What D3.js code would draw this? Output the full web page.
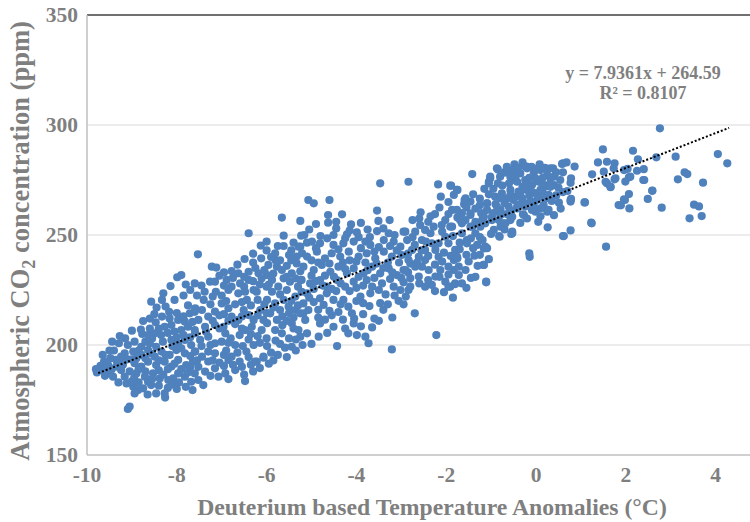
<!DOCTYPE html>
<html>
<head>
<meta charset="utf-8">
<script src="https://cdn.jsdelivr.net/npm/d3@7"></script>
<style>
  body { margin: 0; background: #fff; }
  svg text { font-family: "Liberation Serif", "Times New Roman", serif; font-weight: bold; fill: #7f7f7f; }
</style>
</head>
<body>
<svg id="chart" width="750" height="522"></svg>
<script>
// tick values
const xTicks = [-10, -8, -6, -4, -2, 0, 2, 4];
const yTicks = [150, 200, 250, 300, 350];

// trendline shown on the chart
const slope = 7.9361, intercept = 264.59;
const trendRange = [-9.75, 4.3];
const eqLabel = "y = 7.9361x + 264.59";
const r2Label = "R² = 0.8107";

// [temperature anomaly °C, CO2 ppm]
const samples = [
  [-7.90,231.8],[-7.99,230.8],[-8.14,226.8],[-8.57,219.7],[-8.33,220.5],[-8.75,210.9],[-8.47,210.3],[-8.33,212.9],[-8.17,215.1],[-8.16,212.1],
  [-7.97,211.4],[-7.82,210.6],[-7.71,214.4],[-7.60,215.1],[-8.77,205.0],[-8.94,201.5],[-9.09,200.0],[-9.27,204.1],[-9.44,201.5],[-9.29,200.8],
  [-8.64,204.5],[-8.49,205.3],[-8.27,208.3],[-8.12,209.1],[-8.05,206.1],[-7.90,206.8],[-7.75,208.3],[-7.60,206.8],[-8.79,199.2],[-8.60,200.8],
  [-8.46,199.2],[-8.31,201.5],[-8.12,202.3],[-7.97,200.8],[-7.82,202.3],[-7.68,200.0],[-8.97,197.0],[-8.79,195.5],[-8.64,197.7],[-8.49,194.7],
  [-8.34,197.0],[-8.16,195.5],[-8.01,197.7],[-7.82,196.2],[-7.60,197.0],[-9.35,193.2],[-9.24,194.7],[-9.16,196.2],[-9.53,190.9],[-9.68,188.6],
  [-9.53,187.1],[-9.42,185.6],[-9.24,188.6],[-9.35,190.2],[-9.16,185.6],[-8.94,191.7],[-8.79,190.2],[-8.64,192.4],[-8.46,190.9],[-8.27,192.4],
  [-8.12,190.2],[-7.97,193.2],[-7.79,190.9],[-7.64,192.4],[-8.90,187.1],[-8.71,185.6],[-8.53,187.1],[-8.38,184.8],[-8.19,184.1],[-8.08,184.8],
  [-7.97,187.1],[-7.82,185.6],[-7.68,183.3],[-7.60,187.1],[-8.97,181.0],[-8.86,179.5],[-8.75,180.3],[-8.57,181.8],[-8.94,178.0],[-8.46,178.0],
  [-8.27,178.0],[-8.26,176.1],[-9.05,172.0],[-9.09,170.9],[-8.64,183.3],[-9.78,187.5],[-9.60,186.0],[-9.62,192.5],[-9.70,190.5],[-9.48,194.0],
  [-9.00,193.5],[-9.05,188.0],[-9.12,182.5],[-8.85,183.0],[-9.30,183.0],
  [-9.40,197.5],[-9.20,191.0],[-9.10,193.5],[-8.95,185.0],[-8.85,189.0],[-8.70,188.0],[-8.55,184.5],[-8.40,188.5],[-8.30,186.5],[-8.20,189.0],
  [-8.05,191.5],[-7.90,189.0],[-7.75,187.5],[-7.70,195.0],[-7.90,198.5],[-8.10,199.5],[-8.25,195.5],[-8.40,193.0],[-8.55,196.0],[-8.70,194.0],
  [-8.85,197.5],[-8.90,194.0],[-8.70,201.5],[-8.55,203.0],[-8.35,204.5],[-8.20,205.5],[-8.00,203.5],[-7.85,204.5],[-7.70,203.5],[-7.65,210.5],
  [-7.85,213.0],[-8.00,214.5],[-8.40,207.5],[-8.60,207.5],[-8.50,214.0],[-8.25,217.5],[-7.75,218.0],[-8.10,182.0],[-8.40,181.5],[-7.95,183.0],
  [-7.80,181.0],[-8.65,177.5],[-9.00,183.5],[-9.25,191.5],[-9.45,189.0],[-9.60,189.5],[-9.80,189.0],
  [-8.45,217.0],[-8.30,223.5],[-8.05,220.5],[-7.85,222.5],[-7.70,225.0],[-7.55,222.5],[-7.60,228.0],[-7.80,227.5],[-8.60,212.0],[-8.80,207.0],
  [-9.00,206.5],[-9.15,203.0],[-9.50,197.5],[-9.65,195.5],[-7.55,193.0],[-7.70,190.0],[-7.65,179.5],[-8.00,180.0],[-8.20,180.5],
  [-6.40,250.8],[-5.62,249.7],[-5.23,249.7],[-6.13,245.2],[-5.62,245.0],[-5.29,244.7],[-7.53,241.2],[-6.49,239.1],[-6.12,239.4],[-5.81,241.7],
  [-5.50,240.9],[-5.33,240.2],[-5.21,241.7],[-7.22,235.6],[-7.12,235.2],[-6.78,233.6],[-6.63,232.6],[-6.40,233.3],[-6.18,232.6],[-5.96,236.4],
  [-5.77,235.6],[-5.66,234.1],[-5.44,232.6],[-5.33,237.1],[-7.26,228.8],[-7.15,228.8],[-6.89,229.6],[-6.78,226.5],[-6.59,228.0],[-6.40,229.6],
  [-6.29,225.0],[-6.11,230.3],[-5.99,231.8],[-5.88,229.6],[-5.74,226.5],[-5.62,230.3],[-5.48,228.8],[-5.36,230.3],[-5.22,229.6],[-7.38,224.2],
  [-7.13,224.2],[-6.85,225.0],[-6.63,223.5],[-6.48,224.2],[-6.44,220.5],[-6.22,224.2],[-5.99,220.5],[-5.88,224.2],[-5.81,218.9],[-5.62,220.5],
  [-5.55,225.0],[-5.36,222.0],[-5.22,224.2],[-5.18,218.9],[-7.59,216.7],[-7.44,215.9],[-7.30,212.9],[-7.15,215.2],[-7.00,218.9],[-6.85,216.7],
  [-6.78,212.9],[-6.63,211.4],[-6.51,215.9],[-6.40,213.6],[-6.29,211.4],[-6.14,215.9],[-6.07,211.4],[-5.92,214.4],[-5.77,211.4],[-5.70,215.9],
  [-5.51,217.4],[-5.36,215.9],[-5.25,214.4],[-5.14,211.4],[-7.52,211.4],[-7.37,208.3],[-7.15,209.1],[-6.92,205.3],[-6.96,208.3],[-6.48,206.8],
  [-6.33,208.3],[-6.11,206.8],[-5.99,209.9],[-5.81,206.8],[-5.66,205.3],[-5.44,209.9],[-5.29,206.8],[-7.59,205.3],[-7.48,202.3],[-7.30,203.8],
  [-7.15,200.8],[-6.70,200.0],[-6.53,199.5],[-6.29,200.0],[-5.99,199.5],[-5.59,198.8],[-5.44,199.2],[-7.59,197.0],[-7.44,194.7],[-7.30,197.0],
  [-7.15,196.2],[-6.85,193.2],[-6.78,194.7],[-6.55,190.1],[-6.26,192.4],[-6.07,194.7],[-7.52,190.1],[-7.37,187.9],[-7.15,189.4],[-6.92,187.1],
  [-6.70,188.6],[-7.07,185.6],[-7.52,184.1],[-7.41,181.8],[-6.48,183.6],[-6.22,192.4],[-6.07,194.2],[-6.80,203.0],[-6.60,204.5],[-7.00,201.5],
  [-6.40,202.5],[-6.20,204.0],[-5.80,202.0],[-5.50,203.0],[-5.90,196.5],[-6.90,197.5],[-7.05,192.0],[-6.65,196.5],
  [-7.45,199.5],[-7.25,200.0],[-7.35,206.0],[-7.20,211.0],[-7.05,207.5],[-7.05,213.5],[-7.25,218.5],[-7.40,220.5],[-7.20,222.0],[-7.00,222.5],
  [-6.90,220.0],[-6.70,218.5],[-6.55,219.5],[-6.95,214.0],[-6.70,209.5],[-6.85,211.0],[-6.55,213.0],[-6.35,218.0],[-6.20,220.5],[-6.05,218.5],
  [-6.20,213.5],[-6.00,214.5],[-5.85,217.0],[-5.65,213.0],[-5.50,214.5],[-5.40,212.5],[-5.45,220.0],[-5.70,223.0],[-6.00,226.5],[-6.15,227.5],
  [-6.50,226.5],[-6.95,227.0],[-7.05,231.5],[-6.75,230.5],[-6.50,231.0],[-6.25,235.0],[-6.05,234.0],[-5.85,232.5],[-5.55,236.0],[-5.45,238.5],
  [-5.70,238.5],[-6.30,229.0],[-5.95,227.5],[-5.30,226.5],[-5.55,231.0],[-5.25,233.5],[-6.85,201.0],[-6.45,197.0],[-6.15,201.0],[-6.35,205.0],
  [-6.00,203.0],[-5.70,200.5],[-5.65,209.0],[-5.35,202.5],[-7.30,192.5],[-6.95,190.5],[-6.60,192.5],[-6.40,194.5],[-7.25,186.0],[-6.85,184.5],
  [-6.30,188.0],[-5.85,193.0],[-6.55,207.5],[-7.45,227.0],[-6.30,241.5],[-6.00,243.0],[-5.40,246.5],[-5.80,238.5],
  [-7.20,193.0],[-6.95,195.5],[-6.75,191.0],[-6.50,186.5],[-6.35,191.0],[-6.15,189.5],[-5.95,191.5],[-5.75,195.5],[-5.55,194.5],[-5.35,197.5],
  [-5.20,200.0],[-5.00,200.5],[-5.40,207.5],[-5.55,211.0],[-5.30,218.0],[-5.05,221.5],[-4.85,216.0],[-4.70,211.5],[-4.55,213.5],[-4.40,215.0],
  [-4.25,207.5],[-4.05,212.0],[-3.85,214.0],[-3.65,208.0],[-3.50,211.0],[-3.30,218.5],[-3.15,222.5],[-3.00,230.5],[-2.85,233.0],
  [-5.10,246.5],[-5.45,243.0],[-5.75,245.0],[-6.00,247.0],[-5.90,240.0],[-6.30,237.5],[-6.65,236.5],[-6.95,233.0],
  [-3.47,273.5],[-5.07,265.9],[-4.95,264.4],[-4.60,265.9],[-5.25,256.4],[-5.66,257.9],[-4.63,259.1],[-4.32,259.4],[-4.63,255.6],[-4.12,254.8],
  [-3.54,261.1],[-3.51,256.4],[-3.26,256.8],[-3.54,251.8],[-3.99,251.2],[-4.21,250.3],[-5.16,250.0],[-3.28,250.8],[-2.95,251.5],[-4.51,250.0],
  [-4.99,247.0],[-5.25,244.7],[-4.81,246.2],[-4.51,245.5],[-4.29,246.2],[-4.06,247.0],[-3.80,247.0],[-3.69,245.5],[-3.39,247.7],[-3.17,247.0],
  [-3.02,244.7],[-2.87,247.7],[-5.10,240.2],[-4.88,242.4],[-4.70,239.4],[-4.55,241.7],[-4.36,240.2],[-4.17,242.4],[-3.95,240.2],[-3.77,241.7],
  [-3.58,239.4],[-3.39,242.4],[-3.21,240.2],[-2.99,240.9],[-2.84,238.6],[-5.18,235.6],[-4.95,234.1],[-4.77,236.4],[-4.58,233.3],[-4.40,235.6],
  [-4.21,232.6],[-4.06,234.8],[-3.84,232.6],[-3.65,235.6],[-3.47,232.6],[-3.28,234.8],[-3.10,231.8],[-2.95,234.1],[-5.25,229.5],[-5.03,228.0],
  [-4.81,229.5],[-4.66,226.5],[-4.43,229.5],[-4.25,226.5],[-4.06,228.8],[-3.77,229.5],[-3.65,226.5],[-3.43,228.0],[-3.17,226.5],[-3.02,225.0],
  [-2.80,226.5],[-5.10,223.5],[-4.81,221.2],[-4.66,223.5],[-4.51,220.5],[-4.29,220.5],[-3.91,222.0],[-3.69,223.5],[-3.47,219.0],[-3.71,217.7],
  [-3.06,220.1],[-4.18,217.4],[-4.10,214.4],[-4.73,218.2],[-5.07,215.9],[-5.18,214.4],[-4.06,209.8],[-4.51,208.3],[-4.81,209.8],[-4.18,205.3],
  [-3.99,204.5],[-3.80,203.8],[-3.73,200.8],[-4.43,199.5],[-3.21,198.0],[-4.84,203.8],[-5.10,205.3],[-5.25,203.8],[-4.90,244.0],[-4.40,243.5],
  [-3.90,244.0],[-3.50,244.5],[-3.10,243.0],[-4.65,248.5],[-4.00,238.0],[-3.30,237.5],[-4.70,231.5],[-4.30,237.5],[-3.60,230.5],[-4.85,237.5],
  [-3.85,227.0],[-4.95,225.5],[-4.45,224.5],[-3.35,223.0],
  [-5.00,231.5],[-4.90,229.0],[-4.75,227.0],[-4.55,225.5],[-4.35,228.0],[-4.15,224.5],[-4.00,226.0],[-3.95,231.0],[-3.75,234.0],[-3.55,237.0],
  [-3.40,235.0],[-3.20,233.0],[-3.05,237.5],[-3.25,230.0],[-3.50,225.0],[-3.85,219.0],[-4.00,220.0],[-4.35,218.5],[-4.60,215.5],[-4.85,212.5],
  [-4.95,219.5],[-5.00,238.5],[-4.60,237.0],[-4.50,231.0],[-4.25,234.5],[-4.15,238.5],[-3.80,237.5],[-3.60,242.5],[-3.70,249.0],[-3.95,249.0],
  [-4.25,248.5],[-4.80,249.5],[-5.05,252.5],[-4.45,253.0],[-4.90,255.0],[-3.90,255.5],[-3.25,245.0],[-2.95,228.5],[-2.90,222.0],[-3.60,212.0],
  [-4.30,211.5],[-4.65,205.5],[-3.90,208.5],[-3.40,216.0],
  [-4.45,256.0],[-4.15,252.0],[-3.75,252.5],[-3.40,253.0],[-3.15,250.0],[-2.75,249.0],[-2.60,257.5],[-2.35,258.5],[-2.15,262.5],[-1.95,259.5],
  [-1.60,264.0],[-1.25,263.5],[-1.40,268.5],[-1.15,271.0],[-0.85,273.5],[-0.80,276.5],
  [-1.42,277.7],[-2.84,274.2],[-2.18,273.0],[-1.89,272.4],[-1.75,270.5],[-2.12,267.4],[-1.83,268.2],[-1.59,265.9],[-1.46,265.2],[-0.87,280.3],
  [-1.02,276.5],[-1.05,273.5],[-0.68,278.8],[-0.53,275.0],[-2.57,260.3],[-2.75,256.8],[-2.91,251.5],[-2.47,252.3],[-1.87,261.4],[-1.65,259.9],
  [-1.46,259.1],[-1.22,259.9],[-1.09,264.4],[-0.91,267.4],[-0.76,268.9],[-0.79,261.4],[-0.61,262.9],[-0.53,258.3],[-0.53,251.5],[-0.81,249.2],
  [-1.13,244.7],[-1.37,240.6],[-1.17,236.4],[-1.11,228.8],[-1.57,234.1],[-1.72,231.8],[-1.80,227.7],[-1.95,226.5],[-2.02,228.8],[-1.95,235.6],
  [-1.83,238.6],[-2.09,237.9],[-1.75,239.4],[-1.54,247.7],[-1.95,246.2],[-2.17,246.2],[-2.24,243.2],[-2.47,238.6],[-2.39,234.1],[-2.61,231.1],
  [-2.47,226.5],[-2.32,227.3],[-2.80,230.3],[-2.84,225.0],[-2.91,234.1],[-2.70,214.4],[-2.22,204.5],[-2.61,240.1],[-2.76,243.2],[-2.35,250.8],
  [-2.09,251.5],[-2.02,249.2],[-2.54,247.7],[-2.28,253.8],[-2.58,254.5],[-2.69,251.5],[-1.65,250.8],[-1.35,250.8],[-1.24,253.8],[-1.13,255.3],
  [-0.98,258.3],[-0.83,256.8],[-0.68,255.3],[-0.79,253.8],[-0.94,252.3],[-1.42,253.8],[-1.20,256.8],[-1.65,255.3],[-1.87,253.8],[-2.02,256.8],
  [-1.57,256.8],[-1.09,244.0],[-1.19,247.7],[-1.31,245.5],[-1.80,243.2],[-2.17,240.1],[-2.47,243.2],[-2.32,246.2],[-2.13,234.1],[-2.24,231.1],
  [-2.54,235.6],[-2.69,235.6],[-1.83,234.1],[-1.72,235.6],
  [-2.85,241.5],[-2.70,245.5],[-2.55,243.0],[-2.40,240.5],[-2.25,236.5],[-2.05,242.0],[-1.90,240.5],[-1.70,243.5],[-1.55,241.0],[-1.40,244.0],
  [-1.25,249.0],[-1.45,248.5],[-1.70,246.5],[-1.85,249.5],[-2.10,254.5],[-2.40,256.0],[-2.45,247.0],[-2.65,237.5],[-2.40,229.5],[-2.15,231.0],
  [-2.05,224.0],[-1.65,228.0],[-1.45,230.5],[-1.30,236.0],[-1.50,238.0],[-1.95,232.0],[-1.35,262.0],[-1.55,262.5],[-1.95,265.0],[-1.25,266.5],
  [-1.05,268.5],[-0.90,264.0],[-0.65,266.5],[-0.95,260.0],[-0.65,259.5],[-1.35,256.0],[-1.75,258.0],[-2.25,259.5],[-2.80,237.0],[-1.00,250.5],
  [-0.70,252.5],
  [-2.60,228.0],[-2.25,224.5],[-1.85,221.5],[-1.55,226.0],[-1.35,231.0],[-1.25,241.0],[-1.05,239.0],[-2.95,218.5],[-3.20,212.5],
  [2.76,298.5],[1.49,288.9],[2.16,288.3],[1.38,283.0],[1.58,283.3],[1.75,282.6],[2.27,284.4],[2.68,285.3],[3.11,285.6],[4.05,286.8],
  [4.26,282.6],[2.04,280.1],[2.25,279.2],[2.40,279.9],[1.77,275.8],[2.07,276.2],[1.99,274.3],[2.41,275.0],[3.16,275.3],[3.31,278.5],
  [3.37,277.7],[3.72,273.8],[2.07,268.6],[2.59,270.1],[1.98,265.9],[1.89,263.5],[2.08,262.1],[2.49,266.4],[2.80,262.4],[3.52,263.8],
  [3.63,263.0],[3.42,257.6],[3.69,258.6],[1.25,277.6],[1.51,278.8],[1.58,273.5],[1.66,272.0],[1.84,263.6],[1.23,255.6],[1.56,244.7],
  [1.08,264.8],[0.77,252.1],[0.60,249.5],[0.26,253.5],[-0.15,241.7],[-0.14,240.1],[0.78,266.4],[0.77,265.2],[0.51,264.7],[0.86,281.1],
  [0.60,282.6],[0.68,283.0],[0.38,280.3],[0.54,275.0],[0.78,275.8],[0.77,273.7],[0.32,275.8],[0.30,273.0],[0.08,282.1],[-0.24,281.1],
  [-0.48,282.1],[-0.57,256.8],[-0.53,250.8],[-0.29,259.4],[-0.01,260.6],[0.25,260.6],[-0.50,279.5],[-0.35,278.0],[-0.20,280.3],[-0.05,278.0],
  [0.10,279.5],[0.25,277.3],[-0.42,274.2],[-0.24,275.0],[-0.09,272.7],[0.06,274.2],[0.21,272.0],[0.40,272.7],[-0.57,270.5],[-0.39,269.7],
  [-0.20,270.5],[-0.01,269.0],[0.14,269.7],[0.28,268.2],[-0.50,265.9],[-0.31,266.7],[-0.12,265.2],[0.02,265.9],[0.17,263.6],[-0.42,262.1],
  [-0.24,262.9],[-0.09,261.4],[0.10,262.1],[0.28,261.4],[-0.27,259.1],[-0.21,281.1],[0.58,282.3],[-0.85,279.8],[-0.70,278.3],[-1.02,275.7],
  [-0.57,276.5],[0.32,280.3],[0.40,276.5],[1.73,280.3],[1.96,279.5],[2.10,276.5],[1.55,274.2],[1.75,275.3],[2.39,275.0],[1.66,271.7],
  [-1.05,274.2],[-1.76,270.5],[-1.91,272.4],[-1.57,266.7],[-1.09,264.4],[-0.79,266.7],[-0.57,268.2],[-0.35,268.9],[-0.12,270.5],[0.10,270.5],
  [0.32,271.9],[0.77,265.9],[1.09,264.8],[1.24,255.3],[1.96,266.2],[2.59,270.2],[0.62,249.5],[-0.55,250.5],[-0.82,249.5],[-1.16,243.9],
  [-1.11,228.5],[-1.54,246.2],[-1.16,236.4],[-1.76,240.2],[-1.80,228.0],[-1.91,226.5],[-1.09,261.4],[-0.87,262.9],[-0.42,262.9],[-1.16,258.3],
  [-1.46,259.8],[-1.76,261.4],[-1.69,256.8],[-1.91,253.8],[-1.46,253.8],[-1.24,255.3],[-0.98,256.8],[-0.79,259.1],[-0.72,255.3],[-0.95,271.0],
  [-0.75,272.5],[-0.60,273.5],[-0.45,277.0],[-0.30,272.0],[-0.15,276.0],[0.00,275.5],[0.15,276.0],[0.20,280.5],[-0.10,281.0],[-0.65,281.0],
  [-0.40,280.5],[-0.25,264.5],[0.45,268.0],[-0.70,264.5],
  [-0.45,267.5],[-0.15,268.0],[0.05,267.5],[0.20,266.5],[-0.35,264.0],[-0.05,263.5],[0.35,265.5],[0.45,278.5],[0.60,278.5],[0.15,273.0],
  [-0.20,273.5],[-0.55,279.0],[-0.30,283.0],[0.00,280.0],[-0.55,261.0],[0.10,258.5],
  [-0.35,255.5],[-0.20,257.5],[0.05,256.0],[0.40,259.0],[0.55,262.0],[0.60,269.5],[0.50,271.5],[0.70,270.0]
];

const svg = d3.select("#chart");
const plotLeft = 87, plotTop = 15, plotBottom = 455;

const x = d3.scaleLinear().domain([-10, 5]).range([plotLeft, plotLeft + 15 * 44.9]);
const y = d3.scaleLinear().domain([150, 350]).range([plotBottom, plotTop]);

// gridlines
svg.append("g")
  .selectAll("line")
  .data(yTicks.filter(d => d > 150 && d < 350))
  .enter().append("line")
    .attr("x1", plotLeft).attr("x2", 750)
    .attr("y1", d => y(d)).attr("y2", d => y(d))
    .attr("stroke", "#d9d9d9").attr("stroke-width", 1);

// top border at 350
svg.append("line")
  .attr("x1", plotLeft).attr("x2", 750)
  .attr("y1", y(350)).attr("y2", y(350))
  .attr("stroke", "#404040").attr("stroke-width", 1.3);

// axes lines
svg.append("line")
  .attr("x1", plotLeft).attr("x2", 750)
  .attr("y1", y(150)).attr("y2", y(150))
  .attr("stroke", "#bfbfbf").attr("stroke-width", 1.5);
svg.append("line")
  .attr("x1", plotLeft).attr("x2", plotLeft)
  .attr("y1", y(350)).attr("y2", y(150))
  .attr("stroke", "#bfbfbf").attr("stroke-width", 1.5);

// tick labels
svg.append("g")
  .selectAll("text")
  .data(yTicks)
  .enter().append("text")
    .attr("x", 78)
    .attr("y", d => y(d) + 7)
    .attr("text-anchor", "end")
    .style("font-size", "21.5px")
    .text(d => d);

svg.append("g")
  .selectAll("text")
  .data(xTicks)
  .enter().append("text")
    .attr("x", d => x(d))
    .attr("y", 482)
    .attr("text-anchor", "middle")
    .style("font-size", "21.5px")
    .text(d => d);

// points
svg.append("g")
  .selectAll("circle")
  .data(samples)
  .enter().append("circle")
    .attr("cx", d => x(d[0]))
    .attr("cy", d => y(d[1]))
    .attr("r", 4.1)
    .attr("fill", "#4f81bd");

// trendline
svg.append("line")
  .attr("x1", x(trendRange[0])).attr("y1", y(slope * trendRange[0] + intercept))
  .attr("x2", x(trendRange[1])).attr("y2", y(slope * trendRange[1] + intercept))
  .attr("stroke", "#000")
  .attr("stroke-width", 2)
  .attr("stroke-dasharray", "2,2");

// equation
svg.append("text")
  .attr("x", 643).attr("y", 79)
  .attr("text-anchor", "middle")
  .style("font-size", "18px")
  .text(eqLabel);
svg.append("text")
  .attr("x", 643).attr("y", 99)
  .attr("text-anchor", "middle")
  .style("font-size", "18px")
  .text(r2Label);

// axis titles
svg.append("text")
  .attr("x", 432).attr("y", 515)
  .attr("text-anchor", "middle")
  .style("font-size", "23.7px")
  .text("Deuterium based Temperature Anomalies (°C)");

const yTitle = svg.append("text")
  .attr("transform", "translate(29,241) rotate(-90)")
  .attr("text-anchor", "middle")
  .style("font-size", "26.5px");
yTitle.append("tspan").text("Atmospheric CO");
yTitle.append("tspan").attr("dy", 6).style("font-size", "18px").text("2");
yTitle.append("tspan").attr("dy", -6).text(" concentration (ppm)");
</script>
</body>
</html>
